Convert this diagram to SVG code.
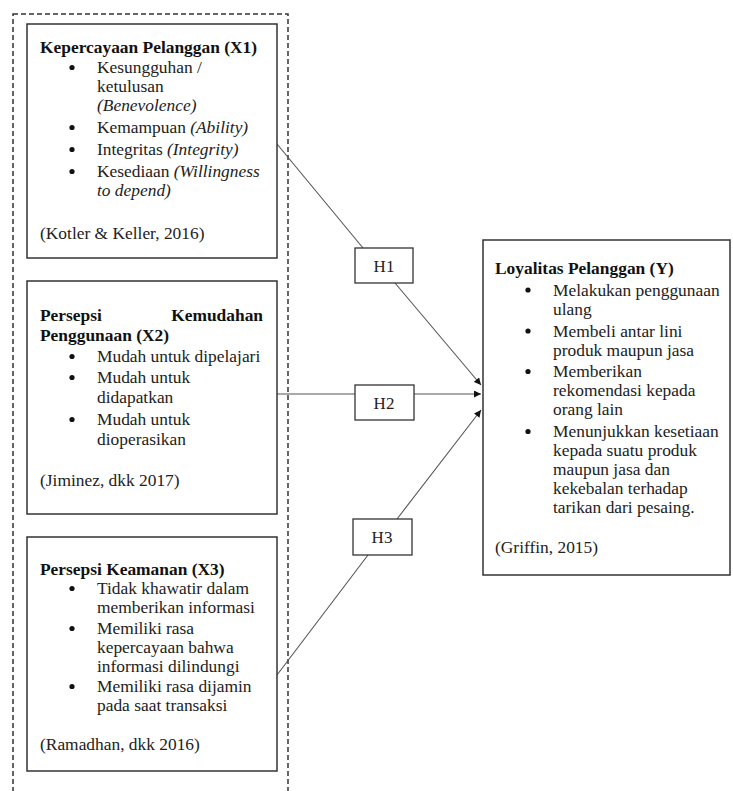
<svg xmlns="http://www.w3.org/2000/svg" width="733" height="791" viewBox="0 0 733 791">
<defs>
<style>
.box{fill:#fff;stroke:#333;stroke-width:1.5}
.hbox{fill:#fff;stroke:#333;stroke-width:1.3}
.t{font-family:"Liberation Serif","Times New Roman",serif;font-size:17.4px;fill:#222}
.b{font-weight:bold;fill:#111}
.i{font-style:italic}
.bu{fill:#111}
.c{stroke:#555;stroke-width:1.1;fill:none}
.ht{font-family:"Liberation Serif","Times New Roman",serif;font-size:17px;fill:#222;text-anchor:middle}
</style>
<marker id="ar" viewBox="0 0 10 10" refX="10" refY="5" markerWidth="8" markerHeight="7" orient="auto" markerUnits="userSpaceOnUse">
<path d="M0,0 L10,5 L0,10 z" fill="#111"/>
</marker>
</defs>
<rect width="733" height="791" fill="#fff"/>
<rect x="13" y="14" width="275" height="790" fill="none" stroke="#333" stroke-width="1.5" stroke-dasharray="5,3"/>

<g id="connectors">
<line class="c" x1="277" y1="144" x2="363" y2="248"/>
<line class="c" x1="395" y1="283" x2="481" y2="385" marker-end="url(#ar)"/>
<line class="c" x1="277" y1="394" x2="355" y2="394"/>
<line class="c" x1="414" y1="394" x2="481" y2="394" marker-end="url(#ar)"/>
<line class="c" x1="277" y1="675" x2="368" y2="555"/>
<line class="c" x1="397" y1="519" x2="481" y2="410" marker-end="url(#ar)"/>
</g>

<g id="x1">
<rect class="box" x="27" y="24" width="250" height="234"/>
<text class="t b" x="40" y="53">Kepercayaan Pelanggan (X1)</text>
<circle class="bu" cx="72" cy="67.5" r="2.6"/><text class="t" x="97" y="73">Kesungguhan /</text>
<text class="t" x="97" y="92">ketulusan</text>
<text class="t i" x="97" y="111">(Benevolence)</text>
<circle class="bu" cx="72" cy="127.5" r="2.6"/><text class="t" x="97" y="133">Kemampuan <tspan class="i">(Ability)</tspan></text>
<circle class="bu" cx="72" cy="149.5" r="2.6"/><text class="t" x="97" y="155">Integritas <tspan class="i">(Integrity)</tspan></text>
<circle class="bu" cx="72" cy="171.5" r="2.6"/><text class="t" x="97" y="177">Kesediaan <tspan class="i">(Willingness</tspan></text>
<text class="t i" x="97" y="196">to depend)</text>
<text class="t" x="40" y="239">(Kotler &amp; Keller, 2016)</text>
</g>

<g id="x2">
<rect class="box" x="27" y="281" width="250" height="233"/>
<text class="t b" x="40" y="321">Persepsi</text>
<text class="t b" x="263" y="321" text-anchor="end">Kemudahan</text>
<text class="t b" x="40" y="341">Penggunaan (X2)</text>
<circle class="bu" cx="72" cy="356.5" r="2.6"/><text class="t" x="97" y="362">Mudah untuk dipelajari</text>
<circle class="bu" cx="72" cy="377.5" r="2.6"/><text class="t" x="97" y="383">Mudah untuk</text>
<text class="t" x="97" y="403">didapatkan</text>
<circle class="bu" cx="72" cy="419.5" r="2.6"/><text class="t" x="97" y="425">Mudah untuk</text>
<text class="t" x="97" y="445">dioperasikan</text>
<text class="t" x="40" y="486">(Jiminez, dkk 2017)</text>
</g>

<g id="x3">
<rect class="box" x="27" y="537" width="250" height="234"/>
<text class="t b" x="40" y="575">Persepsi Keamanan (X3)</text>
<circle class="bu" cx="72" cy="588.5" r="2.6"/><text class="t" x="97" y="594">Tidak khawatir dalam</text>
<text class="t" x="97" y="613">memberikan informasi</text>
<circle class="bu" cx="72" cy="628.5" r="2.6"/><text class="t" x="97" y="634">Memiliki rasa</text>
<text class="t" x="97" y="653">kepercayaan bahwa</text>
<text class="t" x="97" y="672">informasi dilindungi</text>
<circle class="bu" cx="72" cy="686.5" r="2.6"/><text class="t" x="97" y="692">Memiliki rasa dijamin</text>
<text class="t" x="97" y="711">pada saat transaksi</text>
<text class="t" x="40" y="750">(Ramadhan, dkk 2016)</text>
</g>

<g id="h1"><rect class="hbox" x="355" y="248" width="58" height="35"/><text class="ht" x="384" y="272">H1</text></g>
<g id="h2"><rect class="hbox" x="355" y="385" width="59" height="35"/><text class="ht" x="384" y="409">H2</text></g>
<g id="h3"><rect class="hbox" x="353" y="519" width="59" height="36"/><text class="ht" x="382" y="543">H3</text></g>

<g id="y">
<rect class="box" x="483" y="240" width="247" height="335"/>
<text class="t b" x="495" y="274">Loyalitas Pelanggan (Y)</text>
<circle class="bu" cx="528" cy="290" r="2.6"/><text class="t" x="553" y="295.5">Melakukan penggunaan</text>
<text class="t" x="553" y="314.5">ulang</text>
<circle class="bu" cx="528" cy="331" r="2.6"/><text class="t" x="553" y="336.5">Membeli antar lini</text>
<text class="t" x="553" y="355.5">produk maupun jasa</text>
<circle class="bu" cx="528" cy="371.5" r="2.6"/><text class="t" x="553" y="377">Memberikan</text>
<text class="t" x="553" y="396">rekomendasi kepada</text>
<text class="t" x="553" y="415">orang lain</text>
<circle class="bu" cx="528" cy="431.5" r="2.6"/><text class="t" x="553" y="437">Menunjukkan kesetiaan</text>
<text class="t" x="553" y="456">kepada suatu produk</text>
<text class="t" x="553" y="475">maupun jasa dan</text>
<text class="t" x="553" y="494">kekebalan terhadap</text>
<text class="t" x="553" y="513">tarikan dari pesaing.</text>
<text class="t" x="495" y="553">(Griffin, 2015)</text>
</g>
</svg>
